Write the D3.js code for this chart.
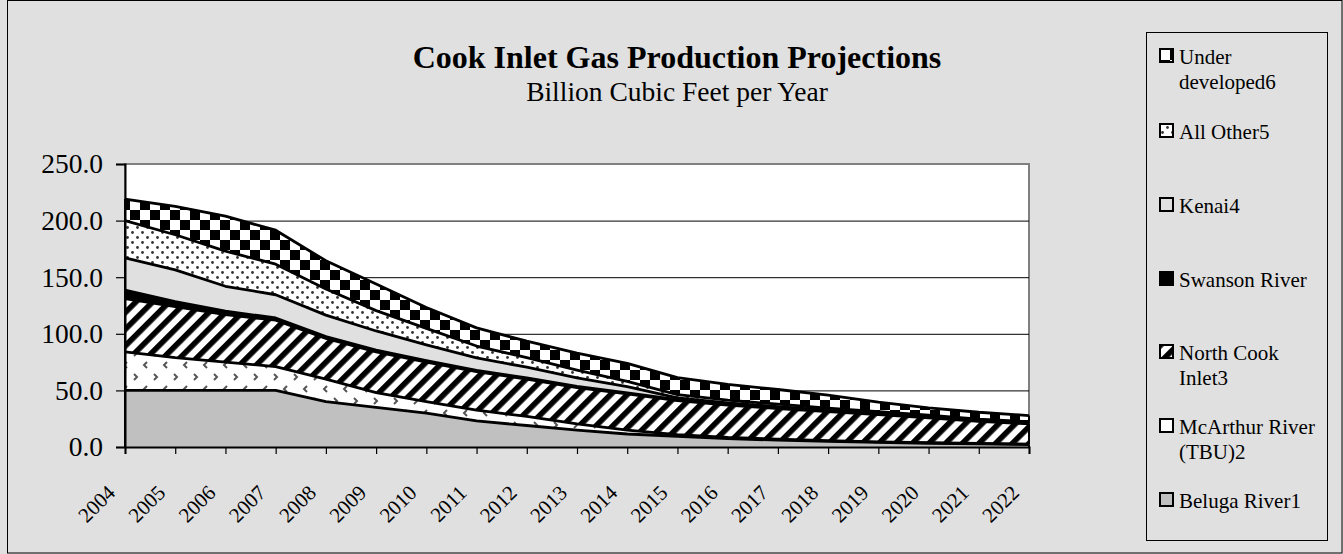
<!DOCTYPE html>
<html>
<head>
<meta charset="utf-8">
<script src="https://cdn.jsdelivr.net/npm/d3@7/dist/d3.min.js"></script>
<style>
  html, body { margin: 0; padding: 0; background: #ffffff; }
  svg { display: block; }
  text { font-family: "Liberation Serif", "Times New Roman", serif; fill: #000; }
</style>
</head>
<body>
<script>
// ---------- data ----------
const years = ["2004","2005","2006","2007","2008","2009","2010","2011","2012","2013","2014","2015","2016","2017","2018","2019","2020","2021","2022"];
const belugaRiver   = [50, 50, 50, 50, 40, 35, 30, 23, 19, 15, 11.5, 9.5, 7.5, 6, 5, 4, 3.3, 2.8, 2.2];
const mcArthurRiver = [34, 29, 25, 21, 20, 13, 10, 9.5, 8, 5.5, 3.5, 1.5, 1, 1, 0.7, 0.6, 0.5, 0.4, 0.3];
const northCookInlet = [47, 45, 42, 41, 36, 36, 35, 34, 33, 32, 32, 30, 28.5, 27, 25.5, 24, 22, 19.5, 18];
const swansonRiver  = [7.5, 4.5, 3, 2, 1.5, 1.5, 1.3, 1.2, 1, 1, 0.9, 0.8, 0.7, 0.6, 0.6, 0.5, 0.5, 0.4, 0.4];
const kenai         = [28.5, 28, 22, 20.5, 19, 17, 14, 11, 9.5, 7.5, 5.5, 1.5, 1.2, 1, 0.8, 0.6, 0.5, 0.5, 0.4];
const allOther      = [33, 31, 31, 27, 23, 18, 14.5, 10.5, 8.5, 7, 4.5, 3, 2.5, 2.2, 1.8, 1.5, 1.3, 1.1, 1];
const underDeveloped = [19, 25, 31, 30, 25, 23.5, 18.5, 16, 14.5, 15, 16, 15, 14, 13, 11.5, 8.5, 6.5, 6, 5.5];

const seriesNames = ["Beluga River1", "McArthur River (TBU)2", "North Cook Inlet3", "Swanson River", "Kenai4", "All Other5", "Under developed6"];
const seriesValues = [belugaRiver, mcArthurRiver, northCookInlet, swansonRiver, kenai, allOther, underDeveloped];
const legendLines = [["Under", "developed6"], ["All Other5"], ["Kenai4"], ["Swanson River"], ["North Cook", "Inlet3"], ["McArthur River", "(TBU)2"], ["Beluga River1"]];
const yTicks = [0, 50, 100, 150, 200, 250];
const titleText = "Cook Inlet Gas Production Projections";
const subtitleText = "Billion Cubic Feet per Year";

// ---------- layout ----------
const W = 1343, H = 554;
const plot = { left: 125, right: 1029, top: 164, bottom: 447 };
const bg = "#e0e0e0";

const svg = d3.select("body").append("svg").attr("width", W).attr("height", H);
const defs = svg.append("defs");

// McArthur: white with small chevrons
const pMc = defs.append("pattern").attr("id", "pMc").attr("patternUnits", "userSpaceOnUse")
  .attr("width", 20).attr("height", 24);
pMc.append("rect").attr("width", 20).attr("height", 24).attr("fill", "#fff");
pMc.append("path").attr("d", "M7,2 L4,5 L7,8").attr("fill", "none").attr("stroke", "#555").attr("stroke-width", 2);
pMc.append("path").attr("d", "M14,14 L17,17 L14,20").attr("fill", "none").attr("stroke", "#555").attr("stroke-width", 2);

// North Cook: diagonal stripes
const pNc = defs.append("pattern").attr("id", "pNc").attr("patternUnits", "userSpaceOnUse")
  .attr("width", 11.8).attr("height", 11.8).attr("patternTransform", "rotate(45)");
pNc.append("rect").attr("width", 11.8).attr("height", 11.8).attr("fill", "#fff");
pNc.append("rect").attr("x", 0).attr("width", 5.6).attr("height", 11.8).attr("fill", "#000");

// All Other: dotted
const pAo = defs.append("pattern").attr("id", "pAo").attr("patternUnits", "userSpaceOnUse")
  .attr("width", 10).attr("height", 10);
pAo.append("rect").attr("width", 10).attr("height", 10).attr("fill", "#fff");
pAo.append("circle").attr("cx", 2.5).attr("cy", 2.5).attr("r", 1.4).attr("fill", "#333");
pAo.append("circle").attr("cx", 7.5).attr("cy", 7.5).attr("r", 1.4).attr("fill", "#333");

// Under developed: checkerboard
const pUd = defs.append("pattern").attr("id", "pUd").attr("patternUnits", "userSpaceOnUse")
  .attr("width", 20).attr("height", 20);
pUd.append("rect").attr("width", 20).attr("height", 20).attr("fill", "#fff");
pUd.append("rect").attr("x", 0).attr("y", 0).attr("width", 10).attr("height", 10).attr("fill", "#000");
pUd.append("rect").attr("x", 10).attr("y", 10).attr("width", 10).attr("height", 10).attr("fill", "#000");

const fills = ["#c0c0c0", "url(#pMc)", "url(#pNc)", "#000000", "#e0e0e0", "url(#pAo)", "url(#pUd)"];

// background + outer border
svg.append("rect").attr("x", 0).attr("y", 0).attr("width", W).attr("height", H).attr("fill", bg);
svg.append("rect").attr("x", 7.5).attr("y", 0.5).attr("width", W - 8.5).attr("height", H - 1.5)
  .attr("fill", "none").attr("stroke", "#000").attr("stroke-width", 1);

// titles
svg.append("text").attr("x", 677).attr("y", 68).attr("text-anchor", "middle")
  .attr("font-size", 32).attr("font-weight", "bold").text(titleText);
svg.append("text").attr("x", 677).attr("y", 101).attr("text-anchor", "middle")
  .attr("font-size", 27.5).text(subtitleText);

// scales
const x = d3.scaleLinear().domain([0, years.length - 1]).range([plot.left, plot.right]);
const y = d3.scaleLinear().domain([0, 250]).range([plot.bottom, plot.top]);

// plot area
svg.append("rect").attr("x", plot.left).attr("y", plot.top)
  .attr("width", plot.right - plot.left).attr("height", plot.bottom - plot.top)
  .attr("fill", "#fff").attr("stroke", "#808080").attr("stroke-width", 2);

// gridlines
svg.append("g").selectAll("line").data(yTicks.filter(d => d > 0 && d < 250)).join("line")
  .attr("x1", plot.left).attr("x2", plot.right)
  .attr("y1", d => y(d) + 0.5).attr("y2", d => y(d) + 0.5)
  .attr("stroke", "#000").attr("stroke-width", 1);

// stacked areas
const table = years.map((yr, i) => {
  const o = { i };
  seriesNames.forEach((n, k) => o[n] = seriesValues[k][i]);
  return o;
});
const stacked = d3.stack().keys(seriesNames)(table);
const area = d3.area().x(d => x(d.data.i)).y0(d => y(d[0])).y1(d => y(d[1]));
const topLine = d3.line().x(d => x(d.data.i)).y(d => y(d[1]));

const gA = svg.append("g");
stacked.forEach((s, k) => {
  gA.append("path").attr("d", area(s)).attr("fill", fills[k]).attr("stroke", "none");
});
stacked.forEach((s, k) => {
  gA.append("path").attr("d", topLine(s)).attr("fill", "none").attr("stroke", "#000").attr("stroke-width", 2.8)
    .attr("stroke-linejoin", "round");
  const f = s[0], l = s[s.length - 1];
  gA.append("line").attr("x1", x(f.data.i)).attr("x2", x(f.data.i)).attr("y1", y(f[0])).attr("y2", y(f[1]))
    .attr("stroke", "#000").attr("stroke-width", 2);
  gA.append("line").attr("x1", x(l.data.i)).attr("x2", x(l.data.i)).attr("y1", y(l[0])).attr("y2", y(l[1]))
    .attr("stroke", "#000").attr("stroke-width", 2);
});

// axes
const yAxis = d3.axisLeft(y).tickValues(yTicks).tickFormat(d => d.toFixed(1)).tickSize(9).tickPadding(13);
const gy = svg.append("g").attr("transform", `translate(${plot.left},0)`).call(yAxis);
gy.select(".domain").attr("stroke", "#000").attr("stroke-width", 2);
gy.selectAll(".tick line").attr("stroke", "#000").attr("stroke-width", 1.2);
gy.selectAll("text").attr("font-size", 27.5).attr("font-family", "Liberation Serif, serif").attr("fill", "#000");

const xAxis = d3.axisBottom(x).tickValues(d3.range(years.length)).tickFormat(i => years[i]).tickSize(7);
const gx = svg.append("g").attr("transform", `translate(0,${plot.bottom})`).call(xAxis);
gx.select(".domain").attr("stroke", "#000").attr("stroke-width", 2);
gx.selectAll(".tick line").attr("stroke", "#000").attr("stroke-width", 1.2);
gx.selectAll("text").attr("font-size", 21).attr("font-family", "Liberation Serif, serif").attr("fill", "#000")
  .attr("text-anchor", "end").attr("dy", null).attr("y", null)
  .attr("transform", "translate(-9,47) rotate(-45)");

// legend
const lg = svg.append("g");
lg.append("rect").attr("x", 1146.5).attr("y", 32.5).attr("width", 181).attr("height", 508)
  .attr("fill", bg).attr("stroke", "#000").attr("stroke-width", 1);
const legendCenters = [56, 131, 205, 279, 352, 426, 500];
const legendFillIdx = [6, 5, 4, 3, 2, 1, 0];
legendLines.forEach((lines, j) => {
  const cy = legendCenters[j];
  lg.append("rect").attr("x", 1160).attr("y", cy - 7).attr("width", 13).attr("height", 13)
    .attr("fill", fills[legendFillIdx[j]]).attr("stroke", "#000").attr("stroke-width", 2);
  lines.forEach((t, li) => {
    lg.append("text").attr("x", 1179).attr("y", cy + 8 + li * 25).attr("font-size", 21).text(t);
  });
});
</script>
</body>
</html>
